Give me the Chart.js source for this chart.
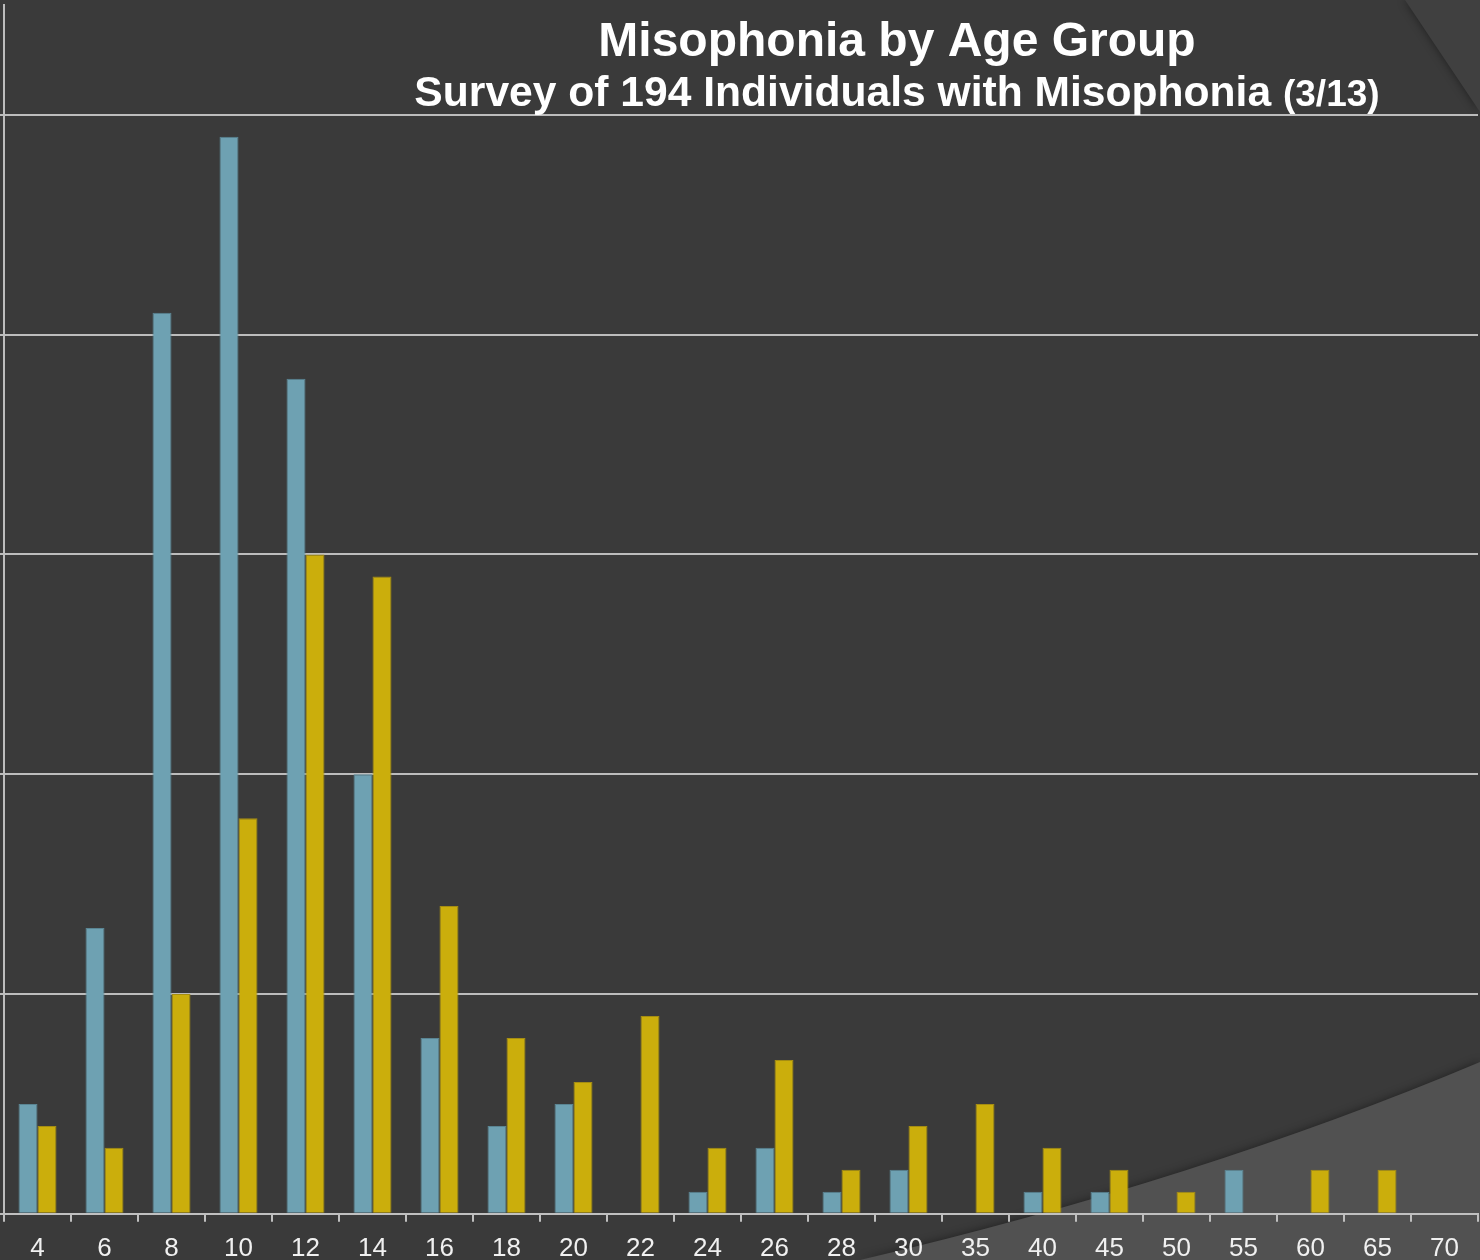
<!DOCTYPE html>
<html>
<head>
<meta charset="utf-8">
<title>Misophonia by Age Group</title>
<script src="https://cdn.jsdelivr.net/npm/chart.js@4.4.0/dist/chart.umd.min.js"></script>
<style>
  html, body { margin: 0; padding: 0; background: #3a3a3a; }
  #wrap { width: 1480px; height: 1260px; }
</style>
</head>
<body>
<div id="wrap"><canvas id="myChart" width="1480" height="1260"></canvas></div>
<script>
// age groups along the bottom
var ageLabels = ["4","6","8","10","12","14","16","18","20","22","24","26","28","30","35","40","45","50","55","60","65","70"];

// blue bars
var blueValues = [5, 13, 41, 49, 38, 20, 8, 4, 5, 0, 1, 3, 1, 2, 0, 1, 1, 0, 2, 0, 0, 0];
// yellow bars
var yellowValues = [4, 3, 10, 18, 30, 29, 14, 8, 6, 9, 3, 7, 2, 4, 5, 3, 2, 1, 0, 2, 2, 0];

var titleText = "Misophonia by Age Group";
var subtitleText = "Survey of 194 Individuals with Misophonia";
var subtitleDate = "(3/13)";

// slide style background
var backdrop = {
  id: "backdrop",
  beforeDraw: function(chart) {
    var ctx = chart.ctx;
    ctx.save();
    ctx.fillStyle = "#3a3a3a";
    ctx.fillRect(0, 0, chart.width, chart.height);

    // top right fold
    ctx.shadowColor = "rgba(0,0,0,0.45)";
    ctx.shadowBlur = 10;
    ctx.fillStyle = "#404040";
    ctx.beginPath();
    ctx.moveTo(1405, 0);
    ctx.lineTo(1480, 0);
    ctx.lineTo(1480, 112);
    ctx.closePath();
    ctx.fill();

    // bottom right curve
    ctx.fillStyle = "#515151";
    ctx.beginPath();
    ctx.moveTo(860, 1260);
    ctx.quadraticCurveTo(1200, 1180, 1480, 1062);
    ctx.lineTo(1480, 1260);
    ctx.closePath();
    ctx.fill();
    ctx.restore();
  }
};

// titles drawn on top
var titles = {
  id: "titles",
  afterDraw: function(chart) {
    var ctx = chart.ctx;
    ctx.save();
    ctx.fillStyle = "#ffffff";
    ctx.textBaseline = "alphabetic";
    ctx.textAlign = "center";
    ctx.font = 'bold 48px "Liberation Sans", Arial, sans-serif';
    ctx.fillText(titleText, 897, 56);

    ctx.textAlign = "left";
    ctx.font = 'bold 42.6px "Liberation Sans", Arial, sans-serif';
    var w1 = ctx.measureText(subtitleText + " ").width;
    ctx.font = 'bold 37px "Liberation Sans", Arial, sans-serif';
    var w2 = ctx.measureText(subtitleDate).width;
    var x0 = 897 - (w1 + w2) / 2;
    ctx.font = 'bold 42.6px "Liberation Sans", Arial, sans-serif';
    ctx.fillText(subtitleText, x0, 106);
    ctx.font = 'bold 37px "Liberation Sans", Arial, sans-serif';
    ctx.fillText(subtitleDate, x0 + w1, 106);
    ctx.restore();
  }
};

new Chart("myChart", {
  type: "bar",
  data: {
    labels: ageLabels,
    datasets: [{
      data: blueValues,
      backgroundColor: "#6ea1b2",
      borderColor: "#5a8593",
      borderWidth: 1
    }, {
      data: yellowValues,
      backgroundColor: "#cbae0c",
      borderColor: "#a58d12",
      borderWidth: 1
    }]
  },
  plugins: [backdrop, titles],
  options: {
    responsive: false,
    animation: false,
    layout: { padding: { left: 0, right: 2, top: 5, bottom: -15 } },
    datasets: {
      bar: { categoryPercentage: 0.567, barPercentage: 1.0 }
    },
    plugins: {
      legend: { display: false },
      title: { display: false },
      tooltip: { enabled: false }
    },
    scales: {
      x: {
        grid: {
          offset: true,
          drawOnChartArea: false,
          color: "#c0c0c0",
          lineWidth: 2,
          tickLength: 8
        },
        border: { color: "#c0c0c0", width: 2 },
        ticks: {
          color: "#f0f0f0",
          font: { family: '"Liberation Sans", Arial, sans-serif', size: 26 },
          padding: 11,
          maxRotation: 0,
          autoSkip: false
        }
      },
      y: {
        min: 0,
        max: 55,
        ticks: { display: false, stepSize: 10 },
        grid: {
          color: function(c) { return c.tick && c.tick.value === 55 ? "rgba(0,0,0,0)" : "#bcbcbc"; },
          lineWidth: 2,
          tickLength: 4
        },
        border: { color: "#bcbcbc", width: 2 }
      }
    }
  }
});
</script>
</body>
</html>
